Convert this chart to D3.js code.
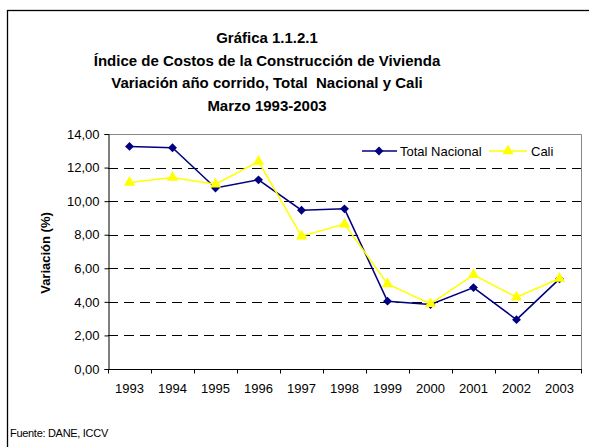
<!DOCTYPE html>
<html>
<head>
<meta charset="utf-8">
<script src="https://cdn.jsdelivr.net/npm/d3@7"></script>
<style>
  body { margin: 0; background: #fff; }
  svg { display: block; font-family: "Liberation Sans", Arial, sans-serif; }
</style>
</head>
<body>
<script>
var width = 589;
var height = 447;

var years = ["1993", "1994", "1995", "1996", "1997", "1998", "1999", "2000", "2001", "2002", "2003"];
var totalNacional = [13.26, 13.18, 10.78, 11.27, 9.46, 9.54, 4.04, 3.84, 4.85, 2.94, 5.37];
var cali = [11.11, 11.41, 11.01, 12.36, 7.91, 8.63, 5.07, 3.88, 5.61, 4.28, 5.39];
var yTicks = [0, 2, 4, 6, 8, 10, 12, 14];
var titleLines = ["Gráfica 1.1.2.1", "Índice de Costos de la Construcción de Vivienda",
                  "Variación año corrido, Total  Nacional y Cali", "Marzo 1993-2003"];

var svg = d3.select("body")
    .append("svg")
    .attr("width", width)
    .attr("height", height);

// outer frame (goes past the right and bottom edges)
svg.append("rect")
    .attr("x", 7.5).attr("y", 10.5)
    .attr("width", 600).attr("height", 460)
    .attr("fill", "none").attr("stroke", "#000").attr("stroke-width", 1.3);

var plotLeft = 108, plotRight = 581, plotTop = 134, plotBottom = 369;

var x = d3.scaleBand().domain(years).range([plotLeft, plotRight]);
var y = d3.scaleLinear().domain([0, 14]).range([plotBottom, plotTop]);

// title
svg.append("g").selectAll("text")
    .data(titleLines)
    .enter().append("text")
    .attr("x", 267)
    .attr("y", function(d, i) { return 43 + i * 22.5; })
    .attr("text-anchor", "middle")
    .attr("font-size", "15px")
    .attr("font-weight", "bold")
    .style("white-space", "pre")
    .text(function(d) { return d; });

// plot border top/right grey
svg.append("path")
    .attr("d", "M" + plotLeft + "," + (plotTop + 0.5) + "H" + (plotRight + 0.5) + "V" + plotBottom)
    .attr("fill", "none").attr("stroke", "#888").attr("stroke-width", 1);

// gridlines
svg.append("g").selectAll("line")
    .data(yTicks.filter(function(d) { return d > 0 && d < 14; }))
    .enter().append("line")
    .attr("x1", plotLeft).attr("x2", plotRight)
    .attr("y1", function(d) { return Math.round(y(d)) + 0.5; })
    .attr("y2", function(d) { return Math.round(y(d)) + 0.5; })
    .attr("stroke", "#000").attr("stroke-width", 1)
    .attr("stroke-dasharray", "10,6");

// y axis
var yAxis = d3.axisLeft(y)
    .tickValues(yTicks)
    .tickSize(4)
    .tickFormat(function(d) { return d3.format(".2f")(d).replace(".", ","); });

var gy = svg.append("g")
    .attr("transform", "translate(" + (plotLeft + 0.5) + ",0)")
    .call(yAxis);
gy.select(".domain").attr("stroke", "#000");
gy.selectAll(".tick line").attr("stroke", "#000");
gy.selectAll("text")
    .attr("font-size", "13px")
    .attr("fill", "#000")
    .attr("font-family", "Liberation Sans, Arial, sans-serif")
    .attr("dx", "-2");

// x axis, ticks between categories
var gx = svg.append("g")
    .attr("transform", "translate(0," + (plotBottom + 0.5) + ")");
gx.append("line")
    .attr("x1", plotLeft).attr("x2", plotRight + 1)
    .attr("stroke", "#000");
gx.selectAll(".tk")
    .data(years.concat(["end"]))
    .enter().append("line")
    .attr("class", "tk")
    .attr("x1", function(d, i) { return Math.round(plotLeft + i * x.bandwidth()) + 0.5; })
    .attr("x2", function(d, i) { return Math.round(plotLeft + i * x.bandwidth()) + 0.5; })
    .attr("y1", 0).attr("y2", 4)
    .attr("stroke", "#000");
gx.selectAll("text")
    .data(years)
    .enter().append("text")
    .attr("x", function(d) { return x(d) + x.bandwidth() / 2; })
    .attr("y", 23)
    .attr("text-anchor", "middle")
    .attr("font-size", "13px")
    .text(function(d) { return d; });

// y label
svg.append("text")
    .attr("transform", "translate(50,253) rotate(-90)")
    .attr("text-anchor", "middle")
    .attr("font-size", "13px")
    .attr("font-weight", "bold")
    .text("Variación (%)");

var line = d3.line()
    .x(function(d, i) { return x(years[i]) + x.bandwidth() / 2; })
    .y(function(d) { return y(d); });

var diamond = d3.symbol().type(d3.symbolDiamond2).size(50);
var triangle = d3.symbol().type(d3.symbolTriangle).size(55);

// Total Nacional
svg.append("path")
    .datum(totalNacional)
    .attr("d", line)
    .attr("fill", "none").attr("stroke", "#000080").attr("stroke-width", 1.5);

// Cali
svg.append("path")
    .datum(cali)
    .attr("d", line)
    .attr("fill", "none").attr("stroke", "#FFFF00").attr("stroke-width", 1.5);

svg.append("g").selectAll("path")
    .data(totalNacional)
    .enter().append("path")
    .attr("d", diamond)
    .attr("transform", function(d, i) { return "translate(" + (x(years[i]) + x.bandwidth() / 2) + "," + y(d) + ")"; })
    .attr("fill", "#000080");

svg.append("g").selectAll("path")
    .data(cali)
    .enter().append("path")
    .attr("d", triangle)
    .attr("transform", function(d, i) { return "translate(" + (x(years[i]) + x.bandwidth() / 2) + "," + y(d) + ")"; })
    .attr("fill", "#FFFF00");

// legend
var legend = svg.append("g");
legend.append("line").attr("x1", 362).attr("x2", 397).attr("y1", 151).attr("y2", 151)
    .attr("stroke", "#000080").attr("stroke-width", 1.5);
legend.append("path").attr("d", diamond).attr("transform", "translate(379,151)").attr("fill", "#000080");
legend.append("text").attr("x", 400).attr("y", 155.5).attr("font-size", "13px").text("Total Nacional");
legend.append("line").attr("x1", 489).attr("x2", 527).attr("y1", 151).attr("y2", 151)
    .attr("stroke", "#FFFF00").attr("stroke-width", 1.5);
legend.append("path").attr("d", triangle).attr("transform", "translate(508,151)").attr("fill", "#FFFF00");
legend.append("text").attr("x", 531).attr("y", 155.5).attr("font-size", "13px").text("Cali");

// source
svg.append("text")
    .attr("x", 10).attr("y", 437)
    .attr("font-size", "11px")
    .attr("letter-spacing", "-0.3px")
    .text("Fuente: DANE, ICCV");
</script>
</body>
</html>
